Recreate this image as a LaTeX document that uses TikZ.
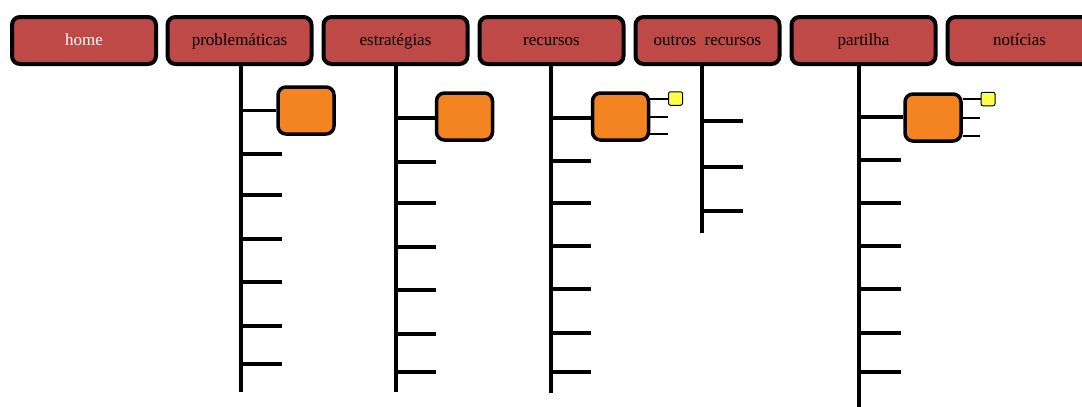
\documentclass[tikz,border=0pt]{standalone}
\usepackage{fontspec}
\setmainfont{Liberation Serif}
\definecolor{menured}{RGB}{190,73,70}
\definecolor{boxorange}{RGB}{244,132,34}
\definecolor{boxyellow}{RGB}{255,255,70}
\begin{document}
\begin{tikzpicture}[x=1pt,y=-1pt,
  menubox/.style={draw=black,line width=4pt,fill=menured,rounded corners=8pt,
    minimum width=144pt,minimum height=47pt,inner sep=0pt,
    text height=12pt,text depth=2pt,font=\fontsize{17}{19}\selectfont},
  subbox/.style={draw=black,line width=3.5pt,fill=boxorange,rounded corners=8pt,
    minimum width=56pt,minimum height=47pt,inner sep=0pt},
  leafbox/.style={draw=black,line width=1pt,fill=boxyellow,rounded corners=2pt,
    minimum width=14pt,minimum height=13.5pt,inner sep=0pt},
  spine/.style={line width=3.4pt},
  tick/.style={line width=3.2pt},
  thin/.style={line width=2pt}]
\useasboundingbox (0,0) rectangle (1082,407);
\fill[white] (0,0) rectangle (1082,407);
% menu
\node[menubox,text=white] (home) at (84,40.5) {home};
\node[menubox] (prob) at (239.5,40.5) {problemáticas};
\node[menubox] (estr) at (395.5,40.5) {estratégias};
\node[menubox] (recu) at (551.5,40.5) {recursos};
\node[menubox] (outr) at (707.5,40.5) {outros\ \ recursos};
\node[menubox] (part) at (863.5,40.5) {partilha};
\node[menubox] (noti) at (1019.5,40.5) {notícias};
% orange boxes
\node[subbox] (probS) at (306,110.5) {};
\node[subbox] (estrS) at (464.5,116.5) {};
\node[subbox] (recuS) at (620.5,116.5) {};
\node[subbox] (partS) at (933,117.5) {};
% yellow boxes
\node[leafbox] (recuY) at (675.5,98.5) {};
\node[leafbox] (partY) at (988,99) {};
% spine ends
\coordinate (probE) at (241,392);
\coordinate (estrE) at (396,392);
\coordinate (recuE) at (551,393);
\coordinate (outrE) at (702,233);
\coordinate (partE) at (859,407);
% spines
\draw[spine] (prob.south -| probE) -- (probE);
\draw[spine] (estr.south -| estrE) -- (estrE);
\draw[spine] (recu.south -| recuE) -- (recuE);
\draw[spine] (outr.south -| outrE) -- (outrE);
\draw[spine] (part.south -| partE) -- (partE);
% branches to orange boxes
\draw[tick] (probE |- probS.west) -- (probS.west);
\draw[tick] (estrE |- 0,118) -- (estrS.west |- 0,118);
\draw[tick] (recuE |- 0,118) -- (recuS.west |- 0,118);
\draw[tick] (partE |- 0,117) -- (partS.west |- 0,117);
% ticks
\foreach \y [count=\i] in {154,195,239,282,326,364}
  {\coordinate (pt\i) at (282,\y); \draw[tick] (probE |- pt\i) -- (pt\i);}
\foreach \y [count=\i] in {162,203,247,290,334,372}
  {\coordinate (et\i) at (436,\y); \draw[tick] (estrE |- et\i) -- (et\i);}
\foreach \y [count=\i] in {161,203,246,289,333,372}
  {\coordinate (rt\i) at (591,\y); \draw[tick] (recuE |- rt\i) -- (rt\i);}
\foreach \y [count=\i] in {121,167,211}
  {\coordinate (ot\i) at (743,\y); \draw[tick] (outrE |- ot\i) -- (ot\i);}
\foreach \y [count=\i] in {160,203,246,289,333,372}
  {\coordinate (at\i) at (901,\y); \draw[tick] (partE |- at\i) -- (at\i);}
% small lines from orange boxes
\draw[thin] (recuS.east |- recuY) -- (recuY.west);
\coordinate (rs2) at (668,117); \coordinate (rs3) at (668,134);
\draw[thin] (recuS.east |- rs2) -- (rs2);
\draw[thin] (recuS.east |- rs3) -- (rs3);
\draw[thin] (partS.east |- partY) -- (partY.west);
\coordinate (ps2) at (980,118); \coordinate (ps3) at (980,136);
\draw[thin] (partS.east |- ps2) -- (ps2);
\draw[thin] (partS.east |- ps3) -- (ps3);
\end{tikzpicture}
\end{document}
